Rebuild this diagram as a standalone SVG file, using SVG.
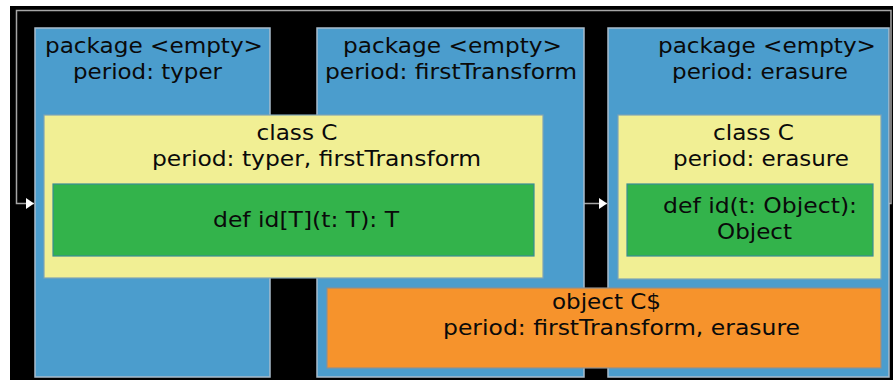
<svg xmlns="http://www.w3.org/2000/svg" width="893" height="380" viewBox="0 0 893 380">
  <style>
    .pkg { fill: #4b9dcd; stroke: #a9bccb; stroke-width: 1.5; }
    .cls { fill: #f1ef94; stroke: #7fa3b5; stroke-width: 1.2; }
    .def { fill: #33b34b; stroke: #3a8d95; stroke-width: 1.2; }
    .obj { fill: #f6932c; stroke: #8f8f8f; stroke-width: 1.2; }
    text { font-family: "DejaVu Sans", sans-serif; font-size: 20.5px; fill: #0a0a0a; text-anchor: middle; }
    .edge { fill: none; stroke: #a6a6a6; stroke-width: 1.5; }
  </style>
  <defs>
    <marker id="head" viewBox="0 0 10 10" refX="10" refY="5" markerWidth="8" markerHeight="11" markerUnits="userSpaceOnUse" orient="auto" preserveAspectRatio="none">
      <path d="M0,0 L10,5 L0,10 Z" fill="#ffffff"/>
    </marker>
  </defs>

  <rect x="0" y="0" width="893" height="380" fill="#ffffff"/>
  <rect x="10" y="6" width="883" height="374" fill="#000000"/>

  <g id="connectors">
    <path class="edge" d="M584,203.5 H607" marker-end="url(#head)"/>
    <path class="edge" d="M889,203.5 H891 V10.5 H16.5 V203.5 H34" marker-end="url(#head)"/>
  </g>

  <g id="pkg-typer">
    <rect class="pkg" x="35" y="28" width="235" height="349"/>
    <text x="154" y="53" textLength="218" lengthAdjust="spacingAndGlyphs">package &lt;empty&gt;</text>
    <text x="147.5" y="79" textLength="149" lengthAdjust="spacingAndGlyphs">period: typer</text>
  </g>

  <g id="pkg-firstTransform">
    <rect class="pkg" x="317" y="28" width="267" height="349"/>
    <text x="452.5" y="53" textLength="219" lengthAdjust="spacingAndGlyphs">package &lt;empty&gt;</text>
    <text x="451" y="79" textLength="252" lengthAdjust="spacingAndGlyphs">period: firstTransform</text>
  </g>

  <g id="pkg-erasure">
    <rect class="pkg" x="608" y="28" width="281" height="349"/>
    <text x="767" y="53" textLength="218" lengthAdjust="spacingAndGlyphs">package &lt;empty&gt;</text>
    <text x="760" y="79" textLength="176" lengthAdjust="spacingAndGlyphs">period: erasure</text>
  </g>

  <g id="class-C-generic">
    <rect class="cls" x="44" y="115" width="499" height="163"/>
    <text x="297" y="140" textLength="81" lengthAdjust="spacingAndGlyphs">class C</text>
    <text x="316.5" y="166" textLength="329" lengthAdjust="spacingAndGlyphs">period: typer, firstTransform</text>
  </g>

  <g id="def-id-generic">
    <rect class="def" x="53" y="184" width="481" height="72"/>
    <text x="306" y="227" textLength="186" lengthAdjust="spacingAndGlyphs">def id[T](t: T): T</text>
  </g>

  <g id="class-C-erased">
    <rect class="cls" x="618" y="115" width="263" height="164"/>
    <text x="753.5" y="140" textLength="81" lengthAdjust="spacingAndGlyphs">class C</text>
    <text x="761" y="166" textLength="176" lengthAdjust="spacingAndGlyphs">period: erasure</text>
  </g>

  <g id="def-id-erased">
    <rect class="def" x="627" y="184" width="246" height="72"/>
    <text x="760" y="213" textLength="194" lengthAdjust="spacingAndGlyphs">def id(t: Object):</text>
    <text x="754.5" y="239" textLength="75" lengthAdjust="spacingAndGlyphs">Object</text>
  </g>

  <g id="object-C">
    <rect class="obj" x="327" y="288" width="554" height="80"/>
    <text x="606.5" y="309" textLength="109" lengthAdjust="spacingAndGlyphs">object C$</text>
    <text x="621.5" y="335" textLength="357" lengthAdjust="spacingAndGlyphs">period: firstTransform, erasure</text>
  </g>
</svg>
